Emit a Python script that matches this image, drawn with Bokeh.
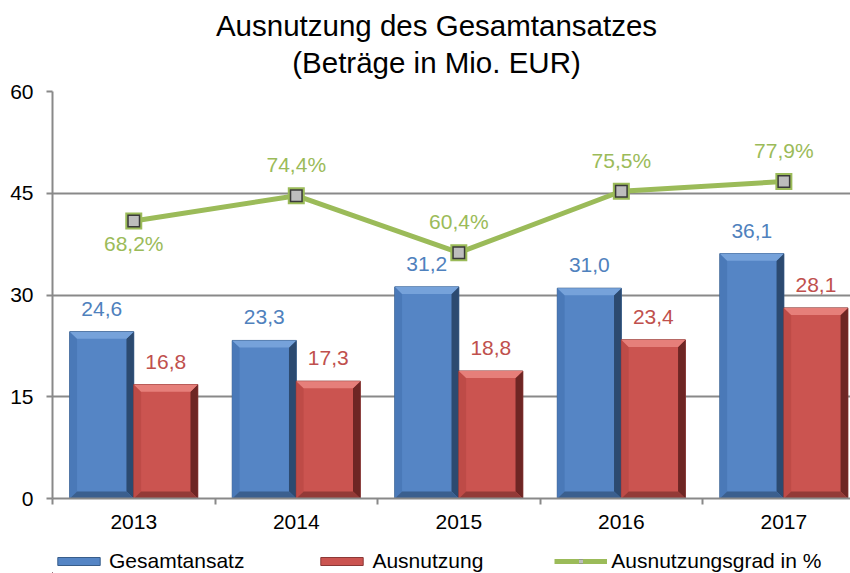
from bokeh.plotting import figure
from bokeh.layouts import column
from bokeh.models import (Range1d, FixedTicker, Legend, LegendItem, ColumnDataSource)
from bokeh.core.properties import value
from bokeh.embed import file_html
from bokeh.resources import INLINE

# ---- data ----
years = ["2013", "2014", "2015", "2016", "2017"]
gesamtansatz = [24.6, 23.3, 31.2, 31.0, 36.1]
ausnutzung = [16.8, 17.3, 18.8, 23.4, 28.1]
grad = [68.2, 74.4, 60.4, 75.5, 77.9]
y_ticks = [0, 15, 30, 45, 60]
title_lines = ["Ausnutzung des Gesamtansatzes", "(Beträge in Mio. EUR)"]
series_names = ["Gesamtansatz", "Ausnutzung", "Ausnutzungsgrad in %"]

FONT = "Liberation Sans"
BLUE = "#4F81BD"
RED = "#C0504D"
GREEN = "#9BBB59"
GRID = "#898989"
BLUE_SET = ("#5585C5", "#76A2DA", "#4A79B8", "#2C4A70", "#3B5F8E", "#385D8A")
RED_SET = ("#CB5450", "#E67F7A", "#BE4B47", "#6E2624", "#933A37", "#8C3836")
LEFT = 52


def blank_fig(h):
    # the column aligns this frame with the main frame (which starts at LEFT px)
    f = figure(width=850, height=h, x_range=Range1d(LEFT, 850), y_range=Range1d(0, h),
               output_backend="svg", toolbar_location=None, min_border=0,
               x_axis_location=None, y_axis_location=None)
    f.grid.visible = False
    f.outline_line_color = None
    f.background_fill_color = "white"
    f.border_fill_color = "white"
    return f


# ---- title figure ----
TH = 80
pt = blank_fig(TH)
pt.text(x=[436, 436], y=[TH - 25, TH - 62], text=title_lines,
        text_align="center", text_baseline="middle",
        text_font=value(FONT), text_font_size="29.5px", text_color="black")

# ---- main figure ----
p = figure(width=850, height=460, x_range=Range1d(0, 4.91), y_range=Range1d(0, 60),
           output_backend="svg", toolbar_location=None, title=None,
           min_border_left=LEFT, min_border_right=0, min_border_top=11, min_border_bottom=42)
p.extra_y_ranges = {"pct": Range1d(0, 100)}
p.outline_line_color = None
p.background_fill_color = "white"
p.border_fill_color = "white"

centers = [i + 0.5 for i in range(len(years))]
p.xaxis.ticker = FixedTicker(ticks=centers, minor_ticks=list(range(len(years) + 1)))
p.xaxis.major_label_overrides = {c: y for c, y in zip(centers, years)}
p.xaxis.major_tick_line_color = None
p.xaxis.major_tick_out = 0
p.xaxis.major_tick_in = 0
p.xaxis.minor_tick_line_color = GRID
p.xaxis.minor_tick_line_width = 2
p.xaxis.minor_tick_out = 6
p.xaxis.minor_tick_in = 0
p.xaxis.axis_line_color = GRID
p.xaxis.axis_line_width = 2
p.xaxis.major_label_standoff = 10
p.xaxis.major_label_text_font = FONT
p.xaxis.major_label_text_font_size = "21px"
p.xaxis.major_label_text_color = "black"

p.yaxis.ticker = FixedTicker(ticks=y_ticks)
p.yaxis.major_tick_line_color = GRID
p.yaxis.major_tick_line_width = 2
p.yaxis.major_tick_out = 6
p.yaxis.major_tick_in = 0
p.yaxis.minor_tick_line_color = None
p.yaxis.axis_line_color = GRID
p.yaxis.axis_line_width = 2
p.yaxis.major_label_standoff = 13
p.yaxis.major_label_text_font = FONT
p.yaxis.major_label_text_font_size = "21px"
p.yaxis.major_label_text_color = "black"

p.xgrid.visible = False
p.ygrid.ticker = FixedTicker(ticks=y_ticks)
p.ygrid.grid_line_color = GRID
p.ygrid.grid_line_width = 2

bw = 0.394
dx = 0.045
dy = 1.05


def bevel_bars(xs, hs, colors):
    body, light, side_l, dark, dark_b, outline = colors
    src = ColumnDataSource(dict(x=xs, top=hs))
    p.vbar(x="x", top="top", width=bw, bottom=0, source=src,
           fill_color=body, line_color=outline, line_width=1)
    tops, lefts, rights, bottoms = ([], []), ([], []), ([], []), ([], [])
    for c, h in zip(xs, hs):
        l, rr = c - bw / 2, c + bw / 2
        tops[0].append([l, rr, rr - dx, l + dx]); tops[1].append([h, h, h - dy, h - dy])
        lefts[0].append([l, l, l + dx, l + dx]); lefts[1].append([0, h, h - dy, dy])
        rights[0].append([rr, rr, rr - dx, rr - dx]); rights[1].append([0, h, h - dy, dy])
        bottoms[0].append([l, rr, rr - dx, l + dx]); bottoms[1].append([0, 0, dy, dy])
    p.patches(xs=lefts[0], ys=lefts[1], fill_color=side_l, line_color=None)
    p.patches(xs=rights[0], ys=rights[1], fill_color=dark, line_color=None)
    p.patches(xs=bottoms[0], ys=bottoms[1], fill_color=dark_b, line_color=None)
    p.patches(xs=tops[0], ys=tops[1], fill_color=light, line_color=None)


xb = [c - bw / 2 for c in centers]
xr = [c + bw / 2 for c in centers]
bevel_bars(xb, gesamtansatz, BLUE_SET)
bevel_bars(xr, ausnutzung, RED_SET)

p.text(x=xb, y=gesamtansatz, text=[f"{v:.1f}".replace(".", ",") for v in gesamtansatz],
       text_align="center", text_baseline="middle", y_offset=-23,
       text_font=value(FONT), text_font_size="21px", text_color=BLUE)
p.text(x=xr, y=ausnutzung, text=[f"{v:.1f}".replace(".", ",") for v in ausnutzung],
       text_align="center", text_baseline="middle", y_offset=-23,
       text_font=value(FONT), text_font_size="21px", text_color=RED)

MARKERS = [(17, GREEN), (13, "#3A3A3A"), (10, "#BDBDBD")]
p.line(x=centers, y=grad, y_range_name="pct", line_color=GREEN, line_width=5)
for s, col in MARKERS:
    p.scatter(x=centers, y=grad, y_range_name="pct", marker="square", size=s,
              fill_color=col, line_color=None)

offs = [23] + [-31] * (len(grad) - 1)
p.text(x=centers, y=grad, y_range_name="pct",
       text=[f"{v:.1f}".replace(".", ",") + "%" for v in grad],
       text_align="center", text_baseline="middle", y_offset=offs,
       text_font=value(FONT), text_font_size="21px", text_color=GREEN)

# ---- legend figure (swatches styled like the series) ----
LH = 33
pl = blank_fig(LH)
lb = pl.vbar(x=[-100], top=[1], width=10, fill_color=BLUE_SET[0], line_color=BLUE_SET[5])
lr = pl.vbar(x=[-100], top=[1], width=10, fill_color=RED_SET[0], line_color=RED_SET[5])
ll = pl.line(x=[-100, -90], y=[1, 1], line_color=GREEN, line_width=5)
lm = [pl.scatter(x=[-100], y=[1], marker="square", size=s, fill_color=col, line_color=None)
      for s, col in MARKERS]
legend = Legend(items=[LegendItem(label=series_names[0], renderers=[lb]),
                       LegendItem(label=series_names[1], renderers=[lr]),
                       LegendItem(label=series_names[2], renderers=[ll] + lm)],
                location=(0, 0), orientation="horizontal", spacing=71, label_standoff=4,
                glyph_width=53, glyph_height=10, padding=0, margin=0,
                border_line_color=None, background_fill_alpha=0,
                label_text_font=FONT, label_text_font_size="21px", label_text_color="black")
pl.add_layout(legend)

layout = column(pt, p, pl, spacing=0)
open("out.html", "w").write(file_html(layout, INLINE))
